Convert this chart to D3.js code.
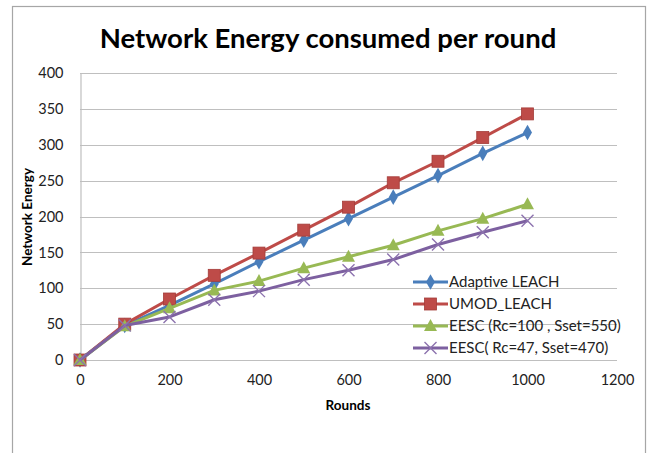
<!DOCTYPE html>
<html><head><meta charset="utf-8">
<script src="https://cdn.jsdelivr.net/npm/d3@7"></script>
<style>
html,body{margin:0;padding:0;background:#fff;}
text{font-family:Lato, "Open Sans", sans-serif;}
</style></head>
<body><svg id="chart" width="650" height="453"></svg>
<script>
const rounds = [0, 100, 200, 300, 400, 500, 600, 700, 800, 900, 1000];
const adaptiveLeach = [0, 48, 76, 106, 137, 167, 197, 227, 257, 288, 317];
const umodLeach = [0, 50, 85, 118, 149, 181, 213, 247, 277, 310, 343];
const eescRc100 = [0, 47, 72, 97, 110, 128, 144, 160, 180, 197, 217];
const eescRc47 = [0, 48, 60, 84, 96, 112, 125, 140, 161, 178, 194];
const seriesNames = ["Adaptive LEACH", "UMOD_LEACH", "EESC (Rc=100 , Sset=550)", "EESC( Rc=47, Sset=470)"];
const xTicks = [0, 200, 400, 600, 800, 1000, 1200];
const yTicks = [0, 50, 100, 150, 200, 250, 300, 350, 400];

const seriesValues = [adaptiveLeach, umodLeach, eescRc100, eescRc47];
const colors = ["#4A7EBB", "#BE4B48", "#98B954", "#7D60A0"];
const markers = ["diamond", "square", "triangle", "cross"];

const svg = d3.select("#chart");
svg.append("rect").attr("x", 12.5).attr("y", 6.5).attr("width", 633).attr("height", 460)
  .attr("fill", "#fff").attr("stroke", "#A6A6A6").attr("stroke-width", 1.2);

const x = d3.scaleLinear().domain([0, 1200]).range([80, 617]);
const y = d3.scaleLinear().domain([0, 400]).range([360, 73]);

svg.append("g").selectAll("line").data(yTicks).join("line")
  .attr("x1", 80).attr("x2", 617)
  .attr("y1", d => Math.round(y(d)) + 0.5).attr("y2", d => Math.round(y(d)) + 0.5)
  .attr("stroke", "#BFBFBF").attr("stroke-width", 1.2);

const yAxis = svg.append("g").attr("transform", "translate(80.5,0)")
  .call(d3.axisLeft(y).tickValues(yTicks).tickSize(0).tickPadding(17).tickFormat(d3.format("d")));
yAxis.select(".domain").attr("stroke", "#BFBFBF").attr("stroke-width", 1.2);
yAxis.selectAll("text").attr("font-size", 14.5).attr("fill", "#222").attr("font-family", "Lato");

const xAxis = svg.append("g").attr("transform", "translate(0,360.5)")
  .call(d3.axisBottom(x).tickValues(xTicks).tickSize(0).tickPadding(14).tickFormat(d3.format("d")));
xAxis.select(".domain").remove();
xAxis.selectAll("text").attr("font-size", 14.5).attr("fill", "#222").attr("font-family", "Lato");

svg.append("text").attr("x", 328).attr("y", 48).attr("text-anchor", "middle")
  .attr("font-size", 27.5).attr("font-weight", "bold").attr("fill", "#000")
  .text("Network Energy consumed per round");

svg.append("text").attr("transform", "translate(32,217) rotate(-90)")
  .attr("text-anchor", "middle").attr("font-size", 13.5).attr("font-weight", "bold").attr("fill", "#000")
  .text("Network Energy");
svg.append("text").attr("x", 348).attr("y", 410).attr("text-anchor", "middle")
  .attr("font-size", 13.5).attr("font-weight", "bold").attr("fill", "#000")
  .text("Rounds");

function drawMarker(g, type, color, cx, cy) {
  if (type === "diamond") {
    g.append("path").attr("d", d3.symbol(d3.symbolDiamond, 70)())
      .attr("transform", `translate(${cx},${cy})`).attr("fill", color);
  } else if (type === "square") {
    g.append("rect").attr("x", cx - 6).attr("y", cy - 6).attr("width", 12).attr("height", 12)
      .attr("fill", color).attr("stroke", "#A43C39").attr("stroke-width", 0.8);
  } else if (type === "triangle") {
    g.append("path").attr("d", `M${cx},${cy - 7}L${cx + 6.5},${cy + 5}L${cx - 6.5},${cy + 5}Z`)
      .attr("fill", color);
  } else {
    g.append("path").attr("d", `M${cx - 6},${cy - 6}L${cx + 6},${cy + 6}M${cx - 6},${cy + 6}L${cx + 6},${cy - 6}`)
      .attr("stroke", "#8C72AE").attr("stroke-width", 1.4).attr("fill", "none");
  }
}

const line = d3.line().x((d, i) => x(rounds[i])).y(d => y(d));
seriesValues.forEach((vals, si) => {
  const g = svg.append("g");
  g.append("path").datum(vals).attr("d", line).attr("fill", "none")
    .attr("stroke", colors[si]).attr("stroke-width", 3).attr("stroke-linejoin", "round");
  vals.forEach((v, i) => drawMarker(g, markers[si], colors[si], x(rounds[i]), y(v)));
});

const legendY = [282, 304, 326, 348];
seriesNames.forEach((name, i) => {
  const g = svg.append("g");
  g.append("line").attr("x1", 413).attr("x2", 448).attr("y1", legendY[i]).attr("y2", legendY[i])
    .attr("stroke", colors[i]).attr("stroke-width", 3);
  drawMarker(g, markers[i], colors[i], 430.5, legendY[i]);
  g.append("text").attr("x", 449).attr("y", legendY[i] + 5).attr("font-size", 15)
    .attr("fill", "#222").text(name);
});
</script></body></html>
